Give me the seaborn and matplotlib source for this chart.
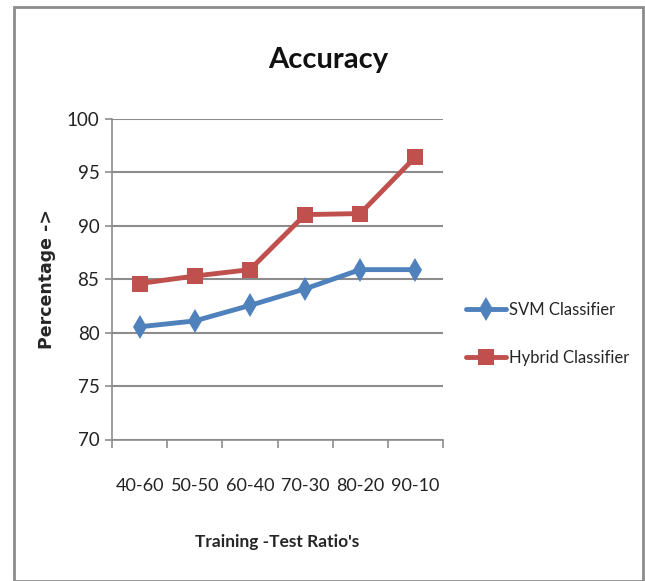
import matplotlib
matplotlib.use("Agg")
import matplotlib.pyplot as plt
import seaborn as sns
import pandas as pd
from matplotlib.patches import Rectangle
from matplotlib.lines import Line2D

ratios = ["40-60", "50-50", "60-40", "70-30", "80-20", "90-10"]
svm = [80.55, 81.1, 82.55, 84.1, 85.9, 85.9]
hybrid = [84.6, 85.3, 85.9, 91.05, 91.15, 96.45]
series_names = ["SVM Classifier", "Hybrid Classifier"]
yticks = [70, 75, 80, 85, 90, 95, 100]

sns.set_theme(style="white")
plt.rcParams["font.family"] = ["Lato", "DejaVu Sans"]

df = pd.DataFrame({
    "ratio": ratios * 2,
    "value": svm + hybrid,
    "series": [series_names[0]] * len(ratios) + [series_names[1]] * len(ratios),
})

W, H = 645, 581
fig = plt.figure(figsize=(W / 100, H / 100), dpi=100)
ax = fig.add_axes([112 / W, 1 - 439.5 / H, (443 - 112) / W, (439.5 - 119) / H])

palette = {series_names[0]: "#4F81BD", series_names[1]: "#C0504D"}
markers = {series_names[0]: "d", series_names[1]: "s"}
sns.lineplot(data=df, x="ratio", y="value", hue="series", style="series",
             markers=markers, dashes=False, palette=palette, sort=False,
             linewidth=3.5, markersize=11, markeredgewidth=0, ax=ax, legend=False)
for ln in ax.get_lines():
    if ln.get_marker() == "d":
        ln.set_markersize(12.5)

ax.set_xlim(-0.5, len(ratios) - 0.5)
ax.set_ylim(70, 100)
ax.set_yticks(yticks)
ax.set_yticklabels([str(v) for v in yticks], fontsize=13.5, color="#222222")
ax.set_xticks(range(len(ratios)))
ax.set_xticklabels(ratios, fontsize=13, color="#222222")
ax.set_xticks([i - 0.5 for i in range(len(ratios) + 1)], minor=True)
ax.tick_params(axis="x", which="major", length=0, pad=28)
ax.tick_params(axis="x", which="minor", length=6, width=1.2, color="#8c8c8c", direction="out", bottom=True)
ax.tick_params(axis="y", which="major", length=5, width=1.2, color="#8c8c8c", direction="out", left=True, pad=4)

ax.grid(axis="y", color="#8c8c8c", linewidth=1.5)
ax.set_axisbelow(True)
for s in ["top", "right"]:
    ax.spines[s].set_visible(False)
for s in ["left", "bottom"]:
    ax.spines[s].set_color("#8c8c8c")
    ax.spines[s].set_linewidth(1.2)

ax.set_xlabel("Training -Test Ratio's", fontsize=12.5, fontweight="bold")
ax.xaxis.set_label_coords(0.5, -0.295)
ax.set_ylabel("Percentage ->", fontsize=12.5, fontweight="bold", family=["DejaVu Sans"])
ax.yaxis.set_label_coords(-0.17, 0.5)

fig.text(328 / W, 1 - 60 / H, "Accuracy", fontsize=21, fontweight="bold",
         ha="center", va="center", color="#111111")

handles = [Line2D([], [], color="#4F81BD", lw=3.5, marker="d", markersize=12.5, markeredgewidth=0),
           Line2D([], [], color="#C0504D", lw=3.5, marker="s", markersize=11, markeredgewidth=0)]
fig.legend(handles, series_names, loc="center left", bbox_to_anchor=(466 / W, 1 - 334 / H),
           frameon=False, fontsize=12, handlelength=2.4, handletextpad=0.2,
           labelspacing=1.9, borderaxespad=0, borderpad=0)

fig.patches.append(Rectangle((13.5 / W, 0), (643 - 13.5) / W, 1 - 6.5 / H,
                             transform=fig.transFigure, fill=False,
                             edgecolor="#8c8c8c", linewidth=2, zorder=10))

fig.savefig("out.png", dpi=100)
